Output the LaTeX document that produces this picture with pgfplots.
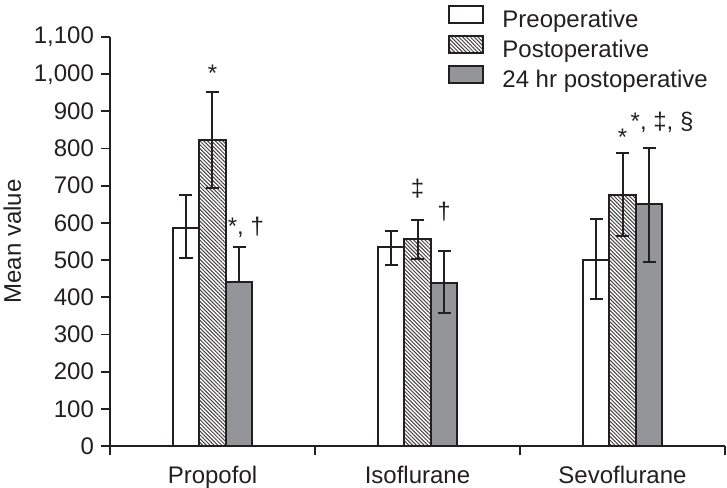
\documentclass[border=0pt]{standalone}
\usepackage{pgfplots}
\pgfplotsset{compat=1.18}
\usepackage{pgfplotstable}
\usepackage{fontspec}
\setmainfont{Liberation Sans}
\usetikzlibrary{patterns.meta}
\definecolor{ink}{RGB}{35,31,32}
\definecolor{barGray}{RGB}{148,149,153}

\pgfplotstableread{
x y ep em
0 587 88 82
1 535 44 49
2 500 110 104
}\pre
\pgfplotstableread{
x y ep em
0 824 127 129
1 558 49 54
2 675 113 110
}\post
\pgfplotstableread{
x y ep em
0 440 94 0
1 438 87 80
2 652 149 156
}\late

\begin{document}
\begin{tikzpicture}[font=\fontsize{12pt}{14pt}\selectfont, color=ink]
\useasboundingbox (-55pt,-20.5pt) rectangle (308.5pt,223pt);
\begin{axis}[
  scale only axis,
  width=307.5pt, height=204.5pt,
  xmin=-0.5, xmax=2.5,
  ymin=0, ymax=1100,
  axis lines=left,
  axis line style={-, line width=0.9pt, ink},
  ybar=0pt, bar width=13.25pt,
  xtick={0,1,2},
  xticklabels={Propofol, Isoflurane, Sevoflurane},
  major x tick style={draw=none},
  minor xtick={-0.5,0.5,1.5,2.5},
  minor tick length=4.5pt,
  minor x tick style={line width=0.9pt, ink},
  ytick={0,100,...,1100},
  major tick length=4.5pt,
  y tick style={line width=0.9pt, ink},
  tick align=outside,
  yticklabel style={/pgf/number format/.cd, 1000 sep={,}, assume math mode=true},
  xticklabel style={yshift=-2pt},
  ylabel={Mean value},
  every axis y label/.style={at={(axis description cs:-0.159,0.5)}, rotate=90, anchor=center},
  clip=false,
  legend cell align=left,
  legend image code/.code={\draw[#1] (0pt,-1pt) rectangle (17pt,7.5pt);},
  legend style={at={(axis description cs:0.5496,1.078)}, anchor=north west,
    draw=none, fill=none, inner sep=0pt, row sep=0pt,
    nodes={text height=9pt, text depth=3pt, inner sep=1pt},
    /tikz/every odd column/.append style={column sep=8pt}},
  error bars/error bar style={line width=1pt, ink},
  error bars/error mark options={rotate=90, mark size=3.25pt, line width=1pt, ink},
]
\addplot[draw=ink, line width=1pt, fill=white,
  error bars/.cd, y dir=both, y explicit]
  table[x=x, y=y, y error plus=ep, y error minus=em] {\pre};
\addplot[draw=ink, line width=1pt,
  pattern={Lines[angle=-45, distance=1.35pt, line width=0.5pt]}, pattern color=ink!85,
  error bars/.cd, y dir=both, y explicit]
  table[x=x, y=y, y error plus=ep, y error minus=em] {\post};
\addplot[draw=ink, line width=1pt, fill=barGray,
  error bars/.cd, y dir=both, y explicit]
  table[x=x, y=y, y error plus=ep, y error minus=em] {\late};
\legend{Preoperative, Postoperative, 24 hr postoperative}
\node[anchor=base] at (axis cs:0,979) {*};
\node[anchor=base] at (axis cs:0.163,570) {*, †};
\node[anchor=base] at (axis cs:1.0,672) {‡};
\node[anchor=base] at (axis cs:1.129,610) {†};
\node[anchor=base] at (axis cs:2.0,808) {*};
\node[anchor=base] at (axis cs:2.193,852) {*, ‡, §};
\end{axis}
\end{tikzpicture}
\end{document}
